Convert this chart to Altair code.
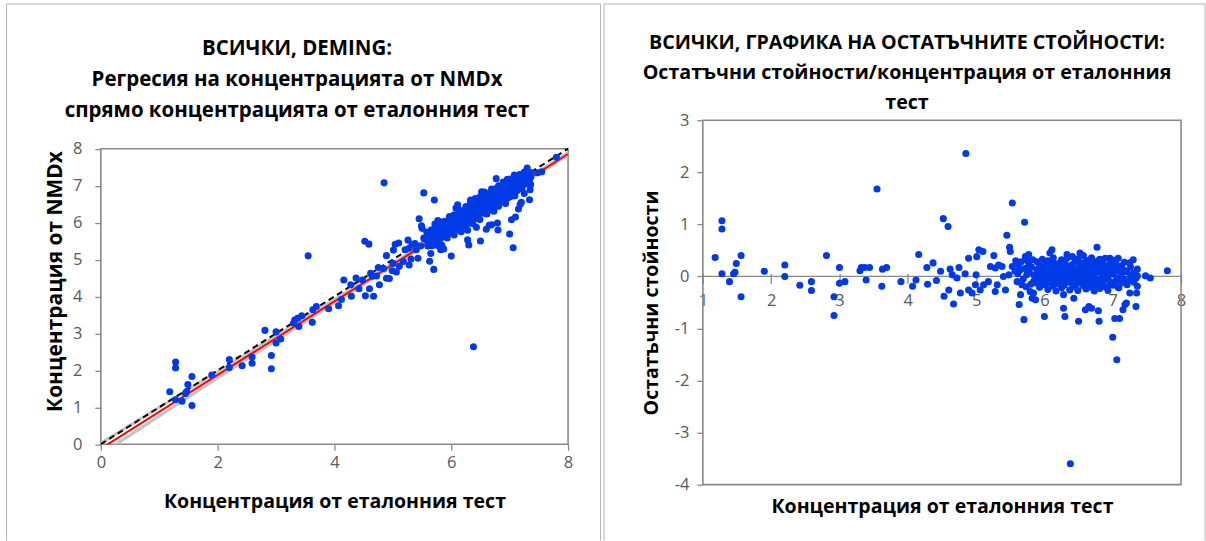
import altair as alt
import pandas as pd

# ---------------------------------------------------------------------------
# Samples: reference-test concentration and residual about the Deming line
# ---------------------------------------------------------------------------
# low range (x < 4.3)
ref_a = [1.18, 1.28, 1.28, 1.28, 1.39, 1.45, 1.47, 1.49, 1.56, 1.56, 1.90, 2.20,
         2.20, 2.42, 2.59, 2.59, 2.81, 2.92, 2.92, 3.00, 3.00, 3.08, 3.30, 3.32,
         3.37, 3.44, 3.39, 3.55, 3.63, 3.69, 3.62, 3.90, 4.07, 4.12, 4.16, 4.28, 4.29]
res_a = [0.365, 1.07, 0.91, 0.05, -0.10, 0.05, 0.08, 0.25, 0.40, -0.39, 0.10, 0.22,
         0.00, -0.17, -0.10, -0.27, 0.40, -0.39, -0.75, 0.17, -0.13, -0.10, 0.11, 0.17,
         0.17, 0.17, -0.07, 1.68, 0.14, 0.17, -0.19, -0.10, -0.19, -0.07, 0.42, 0.17, -0.15]

# middle range (4.3 - 5.9)
ref_b = [4.37, 4.42, 4.48, 4.53, 4.60, 4.67, 4.62, 4.65, 4.75, 4.72, 4.77, 4.84, 4.89,
         4.89, 5.01, 5.04, 5.10, 5.00, 4.99, 4.94, 5.06, 5.11, 5.18, 5.26, 5.21, 5.28,
         5.33, 5.38, 5.31, 5.28, 5.43, 5.40, 5.45, 5.49, 5.50, 5.48, 5.53, 5.57, 5.60,
         5.62, 5.65, 5.63, 5.70, 5.67, 5.72, 5.74, 5.77, 5.79, 5.82, 5.84, 5.77,
         4.85, 5.53, 4.52, 4.59, 5.71,
         5.58, 5.61, 5.64, 5.66, 5.69, 5.71, 5.73, 5.75, 5.78, 5.80, 5.81, 5.83, 5.85]
res_b = [0.26, -0.08, 0.10, -0.38, -0.26, -0.53, 0.14, 0.03, 0.17, -0.03, -0.32, 0.05, 0.35,
         -0.26, 0.38, 0.51, 0.48, 0.03, -0.16, -0.32, -0.26, -0.16, -0.10, 0.40, 0.19, 0.16,
         0.22, 0.19, -0.16, -0.29, -0.26, 0.00, 0.79, 0.56, 0.48, 0.03, 0.19, 0.10, -0.10,
         0.22, -0.35, -0.54, -0.83, -0.16, 0.38, 0.03, 0.22, -0.29, -0.42, -0.10, 0.42,
         2.36, 1.41, 1.11, 0.96, 1.04,
         0.30, 0.05, 0.12, 0.28, -0.05, 0.15, -0.20, 0.30, 0.08, -0.15, 0.18, 0.32, 0.02]

# scattered samples of the upper range
ref_c = [6.11, 6.08, 6.77, 6.33, 6.52, 6.96, 7.08, 7.30, 7.25, 7.34, 7.35, 7.25, 5.84,
         5.87, 6.00, 6.28, 6.43, 6.28, 6.30, 6.50, 6.60, 6.65, 6.69, 6.79, 6.80, 7.03,
         7.10, 7.15, 7.18, 7.20, 7.34, 7.00, 7.08, 6.96, 7.06, 6.38, 7.48, 7.55, 7.80]
res_c = [0.51, 0.45, 0.56, 0.42, 0.45, 0.35, 0.35, 0.32, 0.26, -0.03, -0.32, -0.32, -0.32,
         -0.45, -0.77, -0.35, -0.42, -0.61, -0.77, -0.86, -0.64, -0.58, -0.61, -0.66, -0.86,
         -0.81, -0.81, -0.64, -0.54, -0.51, -0.58, -1.17, -0.21, -0.16, -1.60, -3.60, 0.01,
         -0.03, 0.11]

# dense band of the upper range: one reference value per column of residuals
band_ref = [5.89, 5.93, 5.97, 6.01, 6.05, 6.09, 6.13, 6.17, 6.21, 6.25, 6.29, 6.33, 6.37,
            6.41, 6.45, 6.49, 6.53, 6.57, 6.61, 6.65, 6.69, 6.73, 6.77, 6.81, 6.85, 6.89,
            6.93, 6.97, 7.01, 7.05, 7.09, 7.13, 7.17, 7.21, 7.26, 7.31, 7.36]
band_res = [[0.28, -0.04, 0.13, -0.13], [0.03, -0.21, 0.21], [0.16, -0.09, 0.08, 0.33],
            [-0.01, 0.24, -0.16, 0.11], [0.19, -0.07, 0.05, -0.25, 0.30],
            [0.09, -0.12, 0.22, 0.00], [-0.03, 0.14, 0.36, -0.19, 0.27],
            [0.06, -0.10, 0.18, -0.28], [0.25, 0.01, -0.14, 0.12],
            [-0.05, 0.20, 0.32, -0.22, 0.08], [0.13, -0.02, -0.17, 0.27],
            [0.04, 0.21, -0.11, 0.35], [-0.07, 0.16, -0.26, 0.09, 0.02],
            [0.23, -0.04, 0.12, -0.15, 0.38], [0.07, -0.20, 0.28, 0.00],
            [-0.09, 0.15, 0.34, -0.27, 0.05], [0.19, -0.01, -0.13, 0.10, 0.26],
            [0.03, -0.18, 0.22, 0.40, -0.06], [0.14, -0.24, 0.06, 0.31, -0.10],
            [-0.03, 0.18, -0.15, 0.27, 0.09], [0.11, -0.21, 0.36, 0.01, -0.08],
            [0.24, -0.12, 0.05, -0.28, 0.17], [-0.05, 0.13, 0.29, -0.18],
            [0.08, -0.09, 0.20, -0.23, 0.33], [0.02, 0.16, -0.14, 0.26],
            [-0.06, 0.12, 0.35, -0.20], [0.21, -0.02, 0.07, -0.27], [0.14, -0.11, 0.28],
            [0.04, -0.17, 0.19, 0.31], [-0.08, 0.10, 0.24], [0.15, -0.03, -0.22],
            [0.06, 0.20, -0.12], [-0.05, 0.12, 0.27], [0.09, -0.16], [0.02, 0.18, -0.08],
            [-0.11, 0.07], [0.14, -0.19, 0.01]]

# Deming regression line and its confidence band
fit_intercept = -0.12
fit_slope = 0.997
ci_x = [0, 2, 4, 6, 8]
ci_upper = [0.03, 1.96, 3.92, 5.89, 7.90]
ci_lower = [-0.27, 1.79, 3.82, 5.83, 7.82]
line_x = [0, 8]

# axes
left_x_ticks = [0, 2, 4, 6, 8]
left_y_ticks = [0, 1, 2, 3, 4, 5, 6, 7, 8]
right_x_ticks = [1, 2, 3, 4, 5, 6, 7, 8]
right_y_ticks = [-4, -3, -2, -1, 0, 1, 2, 3]

left_title = ["ВСИЧКИ, DEMING:",
              "Регресия на концентрацията от NMDx",
              "спрямо концентрацията от еталонния тест"]
right_title = ["ВСИЧКИ, ГРАФИКА НА ОСТАТЪЧНИТЕ СТОЙНОСТИ:",
               "Остатъчни стойности/концентрация от еталонния",
               "тест"]
x_title = "Концентрация от еталонния тест"
left_y_title = "Концентрация от NMDx"
right_y_title = "Остатъчни стойности"

# ---------------------------------------------------------------------------
# Tables
# ---------------------------------------------------------------------------
refs = ref_a + ref_b + ref_c
ress = res_a + res_b + res_c
for xv, col in zip(band_ref, band_res):
    refs += [xv] * len(col)
    ress += col
pts = pd.DataFrame({"ref": refs, "res": ress})
pts["nmdx"] = fit_intercept + fit_slope * pts["ref"] + pts["res"]

ci = pd.DataFrame({"x": ci_x + ci_x,
                   "y": ci_upper + ci_lower,
                   "side": ["upper"] * len(ci_x) + ["lower"] * len(ci_x)})
fit_df = pd.DataFrame({"x": line_x,
                       "y": [fit_intercept + fit_slope * v for v in line_x]})
ident_df = pd.DataFrame({"x": line_x, "y": line_x})

# ---------------------------------------------------------------------------
# Styling
# ---------------------------------------------------------------------------
FONT = "Open Sans"
LABEL_COLOR = "#595959"
AXIS_GRAY = "#898989"
FRAME_GRAY = "#b4b4b4"
BLUE = "#0039e6"
LABEL_SIZE = 16.5
TITLE_SIZE = 19.6
DOT = 50

# plot geometry (pixels)
L_W, L_H, L_TOP = 468, 324.5, 28.5     # left view; y = 8 sits L_TOP below the view top
R_W, R_H = 479, 365

label_style = dict(labelFont=FONT, labelFontSize=LABEL_SIZE, labelColor=LABEL_COLOR,
                   labelFlush=False, labelOverlap=False, grid=False, domain=False,
                   ticks=True, tickColor=AXIS_GRAY, tickWidth=1.3)


def title_style(size=TITLE_SIZE):
    return dict(titleFont=FONT, titleFontSize=size, titleFontWeight="bold",
                titleColor="#000000")


lx_scale = alt.Scale(domain=[0, 8], nice=False, zero=False)
ly_scale = alt.Scale(domain=[0, 8], nice=False, zero=False, range=[L_H, L_TOP])
rx_scale = alt.Scale(domain=[1, 8], nice=False, zero=False)
ry_scale = alt.Scale(domain=[-4, 3], nice=False, zero=False)


def frame_layers(left, right, top, bottom):
    """Thin outline of a chart panel (left, top and right edges)."""
    base = alt.Chart(alt.Data(values=[{}]))
    style = dict(color=FRAME_GRAY, strokeWidth=1)
    return [
        base.mark_rule(**style).encode(x=alt.value(left), y=alt.value(top), y2=alt.value(bottom)),
        base.mark_rule(**style).encode(x=alt.value(left), x2=alt.value(right), y=alt.value(top)),
        base.mark_rule(**style).encode(x=alt.value(right), y=alt.value(top), y2=alt.value(bottom)),
    ]


def title_axis(lines, title_x, title_y, line_height, size):
    return alt.Axis(orient="top", labels=False, ticks=False, domain=False, grid=False,
                    title=lines, titleX=title_x, titleY=title_y, titleAlign="center",
                    titleBaseline="alphabetic", titleLineHeight=line_height,
                    titleAngle=0, **title_style(size))


def y_axis(values, title, title_x, title_y, title_size, pad, **extra):
    return alt.Axis(orient="left", values=values, tickSize=6, labelPadding=pad,
                    labelAlign="right", labelBaseline="middle",
                    title=title, titleX=title_x, titleY=title_y, titleAngle=270,
                    titleAlign="center", titleBaseline="middle",
                    **label_style, **title_style(title_size), **extra)


# ---------------------------------------------------------------------------
# Left panel: Deming regression
# ---------------------------------------------------------------------------
left_box = alt.Chart(alt.Data(values=[{}])).mark_rect(
    fill=None, stroke=AXIS_GRAY, strokeWidth=1.6
).encode(
    x=alt.XDatum(0, scale=lx_scale, type="quantitative",
                 axis=title_axis(left_title, 196, -66, 31, 20.5)),
    x2=alt.X2Datum(8),
    y=alt.YDatum(0, scale=ly_scale, type="quantitative",
                 axis=y_axis(left_y_ticks, left_y_title, -45, 161, 21, 13)),
    y2=alt.Y2Datum(8),
)

ci_lines = alt.Chart(ci).mark_line(color="#c4c4c4", strokeWidth=3, clip=True).encode(
    x=alt.X("x:Q", scale=lx_scale, axis=None),
    y=alt.Y("y:Q", scale=ly_scale, axis=None),
    detail="side:N",
)
fit_line = alt.Chart(fit_df).mark_line(color="#ff0000", strokeWidth=2, clip=True).encode(
    x=alt.X("x:Q", scale=lx_scale, axis=None),
    y=alt.Y("y:Q", scale=ly_scale, axis=None),
)
ident_line = alt.Chart(ident_df).mark_line(
    color="#000000", strokeWidth=2, strokeDash=[6, 4], clip=True
).encode(
    x=alt.X("x:Q", scale=lx_scale, axis=None),
    y=alt.Y("y:Q", scale=ly_scale, axis=None),
)

left_pts = alt.Chart(pts).mark_circle(size=DOT, color=BLUE, opacity=1).encode(
    x=alt.X("ref:Q", scale=lx_scale,
            axis=alt.Axis(orient="bottom", values=left_x_ticks, tickSize=6, labelPadding=4,
                          title=x_title, titleY=57, titleBaseline="middle",
                          **label_style, **title_style())),
    y=alt.Y("nmdx:Q", scale=ly_scale, axis=None),
)

left = alt.layer(
    *frame_layers(-94.5, 500.5, -116.5, 421),
    left_box, ci_lines, fit_line, ident_line, left_pts,
).resolve_axis(x="independent", y="independent").properties(width=L_W, height=L_H)

# ---------------------------------------------------------------------------
# Right panel: residuals
# ---------------------------------------------------------------------------
zero_px = R_H * 3 / 7          # pixel row of residual 0
x_axis_y = zero_px - 3         # tick marks straddle the zero line

right_box = alt.Chart(alt.Data(values=[{}])).mark_rect(
    fill=None, stroke=AXIS_GRAY, strokeWidth=1.6
).encode(
    x=alt.XDatum(1, scale=rx_scale, type="quantitative",
                 axis=title_axis(right_title, 204, -72, 30, 19.7)),
    x2=alt.X2Datum(8),
    y=alt.YDatum(-4, scale=ry_scale, type="quantitative",
                 axis=y_axis(right_y_ticks, right_y_title, -51, R_H / 2, TITLE_SIZE, 8,
                             labelExpr="'' + datum.value")),
    y2=alt.Y2Datum(3),
)
zero_rule = alt.Chart(alt.Data(values=[{}])).mark_rule(
    color=AXIS_GRAY, strokeWidth=1.3
).encode(
    x=alt.XDatum(1, scale=rx_scale, type="quantitative", axis=None),
    x2=alt.X2Datum(8),
    y=alt.YDatum(0, scale=ry_scale, type="quantitative", axis=None),
)

right_pts = alt.Chart(pts).mark_circle(size=DOT, color=BLUE, opacity=1).encode(
    x=alt.X("ref:Q", scale=rx_scale,
            axis=alt.Axis(orient="bottom", values=right_x_ticks, offset=x_axis_y - R_H,
                          tickSize=10, labelPadding=9,
                          title=x_title, titleY=506 - 119 - x_axis_y, titleBaseline="middle",
                          **label_style, **title_style())),
    y=alt.Y("res:Q", scale=ry_scale, axis=None),
)

right = alt.layer(
    *frame_layers(-99, 503, -116.5, 421),
    right_box, zero_rule, right_pts,
).resolve_axis(x="independent", y="independent").properties(width=R_W, height=R_H)

chart = alt.hconcat(left, right, spacing=1).properties(
    padding={"left": 5, "top": 2, "right": 0, "bottom": 0},
    background="white",
).configure_view(stroke="transparent")

chart.save("out.html", embed_options={"renderer": "svg", "actions": False})
